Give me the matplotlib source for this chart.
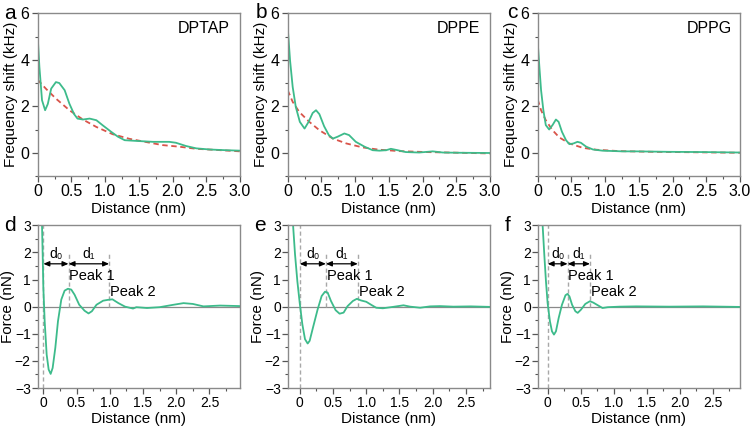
import matplotlib
matplotlib.use("Agg")
import matplotlib.pyplot as plt
from matplotlib.ticker import MultipleLocator

plt.rcParams['font.family'] = ['Liberation Sans', 'DejaVu Sans']

GREEN = '#3dbb8b'
RED = '#d9544a'
GRAY = '#8a8a8a'

# frequency shift curves (top row), x in nm, y in kHz
a_x = [0, 0.025, 0.064, 0.11, 0.15, 0.2, 0.27, 0.32, 0.4, 0.47, 0.54, 0.59, 0.67, 0.77,
       0.87, 0.96, 1.09, 1.19, 1.29, 1.46, 1.71, 1.95, 2.05, 2.2, 2.35, 2.55, 2.79, 3.0]
a_y = [5.0, 3.7, 2.26, 1.83, 2.1, 2.76, 3.04, 3.0, 2.69, 2.11, 1.66, 1.47, 1.43, 1.47,
       1.4, 1.19, 0.9, 0.69, 0.54, 0.51, 0.47, 0.47, 0.43, 0.29, 0.19, 0.14, 0.11, 0.09]
a_fit_x = [0, 0.12, 0.27, 0.47, 0.67, 0.87, 1.11, 1.36, 1.61, 1.85, 2.1, 2.35, 2.6, 3.0]
a_fit_y = [3.14, 2.76, 2.33, 1.83, 1.43, 1.11, 0.8, 0.6, 0.46, 0.33, 0.26, 0.17, 0.13, 0.06]

b_x = [0, 0.035, 0.074, 0.12, 0.18, 0.25, 0.31, 0.37, 0.42, 0.47, 0.54, 0.61, 0.67, 0.74,
       0.84, 0.91, 1.01, 1.14, 1.26, 1.36, 1.46, 1.53, 1.63, 1.75, 1.95, 2.15, 2.3, 2.55, 3.0]
b_y = [5.4, 3.97, 2.83, 1.97, 1.33, 1.04, 1.33, 1.71, 1.83, 1.66, 1.14, 0.76, 0.61, 0.69,
       0.83, 0.76, 0.47, 0.26, 0.11, 0.09, 0.11, 0.17, 0.11, 0.03, 0.01, 0.06, 0.01, 0.0, -0.01]
b_fit_x = [0, 0.074, 0.17, 0.32, 0.47, 0.67, 0.87, 1.11, 1.36, 1.66, 2.05, 2.55, 3.0]
b_fit_y = [2.69, 2.19, 1.76, 1.33, 0.97, 0.61, 0.4, 0.23, 0.13, 0.07, 0.03, 0.0, -0.03]

c_x = [0, 0.025, 0.05, 0.084, 0.12, 0.17, 0.22, 0.27, 0.31, 0.36, 0.42, 0.47, 0.53, 0.59,
       0.64, 0.72, 0.82, 0.96, 1.26, 1.46, 1.95, 2.45, 3.0]
c_y = [4.76, 3.69, 2.69, 1.83, 1.19, 1.0, 1.19, 1.43, 1.33, 0.9, 0.54, 0.37, 0.4, 0.47,
       0.43, 0.26, 0.14, 0.09, 0.06, 0.06, 0.04, 0.03, 0.01]
c_fit_x = [0, 0.05, 0.12, 0.22, 0.32, 0.47, 0.67, 0.87, 1.21, 1.71, 3.0]
c_fit_y = [2.29, 1.83, 1.4, 0.97, 0.66, 0.4, 0.21, 0.13, 0.07, 0.04, 0.0]

# force curves (bottom row), x in nm, y in nN
d_x = [-0.035, -0.02, -0.01, 0.0, 0.02, 0.05, 0.08, 0.11, 0.14, 0.18, 0.22, 0.27, 0.32,
       0.37, 0.42, 0.47, 0.54, 0.62, 0.68, 0.73, 0.8, 0.9, 0.97, 1.04, 1.13, 1.23, 1.35,
       1.4, 1.56, 1.75, 1.96, 2.11, 2.25, 2.41, 2.66, 2.97]
d_y = [3.6, 3.0, 1.9, 0.69, -0.54, -1.77, -2.32, -2.48, -2.26, -1.52, -0.54, 0.26, 0.59,
       0.66, 0.63, 0.44, 0.07, -0.15, -0.25, -0.17, 0.07, 0.22, 0.25, 0.27, 0.13, 0.0, -0.07,
       -0.02, -0.05, -0.02, 0.07, 0.13, 0.1, 0.01, 0.04, 0.02]

e_x = [-0.12, -0.1, -0.07, -0.035, 0, 0.04, 0.08, 0.12, 0.15, 0.2, 0.27, 0.33, 0.38, 0.42,
       0.47, 0.54, 0.6, 0.66, 0.72, 0.8, 0.86, 0.92, 1.0, 1.08, 1.15, 1.25, 1.4, 1.56, 1.66,
       1.81, 1.96, 2.11, 2.31, 2.57, 2.88]
e_y = [3.6, 3.03, 1.93, 0.94, 0.15, -0.65, -1.2, -1.36, -1.26, -0.77, -0.1, 0.39, 0.55, 0.52,
       0.21, -0.13, -0.26, -0.22, 0.02, 0.21, 0.29, 0.23, 0.18, 0.06, -0.04, -0.06, -0.01, 0.05,
       0.0, -0.04, 0.01, 0.02, 0.0, 0.01, -0.01]

f_x = [-0.09, -0.076, -0.05, -0.025, 0, 0.035, 0.066, 0.096, 0.126, 0.167, 0.217, 0.27, 0.3,
       0.33, 0.37, 0.42, 0.455, 0.505, 0.57, 0.64, 0.69, 0.76, 0.83, 0.91, 1.09, 1.34, 1.84,
       2.35, 2.91]
f_y = [3.6, 3.02, 1.91, 0.93, 0.13, -0.54, -0.91, -1.03, -0.91, -0.42, 0.07, 0.42, 0.47,
       0.38, 0.07, -0.17, -0.23, -0.11, 0.1, 0.2, 0.15, 0.05, -0.05, -0.02, 0.0, 0.01, 0.0,
       0.01, -0.01]

top_names = ['DPTAP', 'DPPE', 'DPPG']
top_letters = ['a', 'b', 'c']
bot_letters = ['d', 'e', 'f']
peak1 = [0.379, 0.394, 0.303]
peak2 = [0.99, 0.874, 0.641]
bot_xlim = [(-0.085, 2.96), (-0.18, 2.86), (-0.15, 2.91)]

W, H = 752, 429
fig = plt.figure(figsize=(W / 100, H / 100), dpi=100)
lefts = [37.7, 287.7, 537.7]
aw = 202.3


def style(ax):
    for s in ax.spines.values():
        s.set_color(GRAY)
        s.set_linewidth(1.0)
    ax.tick_params(which='both', direction='out', color='#555555', labelcolor='black',
                   top=False, right=False)
    ax.tick_params(which='major', length=4, width=0.9)
    ax.tick_params(which='minor', length=2.5, width=0.8)


tops = [(a_x, a_y, a_fit_x, a_fit_y), (b_x, b_y, b_fit_x, b_fit_y), (c_x, c_y, c_fit_x, c_fit_y)]
for i, (gx, gy, rx, ry) in enumerate(tops):
    ax = fig.add_axes([lefts[i] / W, 1 - 176 / H, aw / W, (176 - 13.3) / H])
    ax.plot(rx, ry, color=RED, lw=1.3, ls=(0, (3, 2)))
    ax.plot(gx, gy, color=GREEN, lw=1.3)
    ax.set_xlim(0, 3.0)
    ax.set_ylim(-1, 6)
    ax.xaxis.set_major_locator(MultipleLocator(0.5))
    ax.xaxis.set_minor_locator(MultipleLocator(0.25))
    ax.yaxis.set_major_locator(MultipleLocator(2))
    ax.yaxis.set_minor_locator(MultipleLocator(1))
    ax.set_xticks([0, 0.5, 1.0, 1.5, 2.0, 2.5, 3.0])
    ax.set_xticklabels(['0', '0.5', '1.0', '1.5', '2.0', '2.5', '3.0'])
    style(ax)
    ax.tick_params(labelsize=11.5, pad=2)
    ax.set_xlabel('Distance (nm)', fontsize=11, labelpad=2)
    ax.set_ylabel('Frequency shift (kHz)', fontsize=11)
    ax.yaxis.set_label_coords(-0.098, 0.5)
    ax.text(0.95 if i < 2 else 0.96, 0.905, top_names[i], transform=ax.transAxes,
            ha='right', va='center', fontsize=11.5)

letter_pos = [(4, 19), (256, 18), (507, 18)]
for (px, py), t in zip(letter_pos, top_letters):
    fig.text(px / W, 1 - py / H, t, fontsize=15, va='baseline')

bots = [(d_x, d_y), (e_x, e_y), (f_x, f_y)]
for i, (gx, gy) in enumerate(bots):
    ax = fig.add_axes([lefts[i] / W, 1 - 388 / H, aw / W, (388 - 225.3) / H])
    ax.axhline(0, color=GRAY, lw=0.9)
    ax.axvline(0, color='#a8a8a8', lw=1.0, ls=(0, (3, 2)))
    p1, p2 = peak1[i], peak2[i]
    ax.plot([p1, p1], [0, 1.95], color='#a8a8a8', lw=1.0, ls=(0, (3, 2)))
    ax.plot([p2, p2], [0, 1.95], color='#a8a8a8', lw=1.0, ls=(0, (3, 2)))
    ax.plot(gx, gy, color=GREEN, lw=1.3)
    arrow = dict(arrowstyle='<|-|>,head_length=0.35,head_width=0.15', color='black',
                 lw=0.9, shrinkA=0, shrinkB=0)
    ax.annotate('', xy=(0, 1.58), xytext=(p1, 1.58), arrowprops=arrow)
    ax.annotate('', xy=(p1, 1.58), xytext=(p2, 1.58), arrowprops=arrow)
    ax.text(p1 / 2, 1.93, 'd₀', ha='center', va='center', fontsize=10)
    ax.text((p1 + p2) / 2, 1.93, 'd₁', ha='center', va='center', fontsize=10)
    ax.text(p1 + 0.01, 1.12, 'Peak 1', ha='left', va='center', fontsize=10.5)
    ax.text(p2 + 0.01, 0.53, 'Peak 2', ha='left', va='center', fontsize=10.5)
    ax.set_xlim(*bot_xlim[i])
    ax.set_ylim(-3, 3)
    ax.xaxis.set_major_locator(MultipleLocator(0.5))
    ax.xaxis.set_minor_locator(MultipleLocator(0.25))
    ax.yaxis.set_major_locator(MultipleLocator(1))
    ax.yaxis.set_minor_locator(MultipleLocator(0.5))
    ax.set_xticks([0, 0.5, 1.0, 1.5, 2.0, 2.5])
    ax.set_xticklabels(['0', '0.5', '1.0', '1.5', '2.0', '2.5'])
    ax.set_yticks([-3, -2, -1, 0, 1, 2, 3])
    ax.set_yticklabels(['\u22123', '\u22122', '\u22121', '0', '1', '2', '3'])
    style(ax)
    ax.tick_params(labelsize=10, pad=1.5)
    ax.tick_params(axis='y', pad=1)
    ax.set_xlabel('Distance (nm)', fontsize=11, labelpad=2)
    ax.set_ylabel('Force (nN)', fontsize=11)
    ax.yaxis.set_label_coords(-0.11, 0.5)

letter_pos = [(4, 231), (254, 231), (505, 231)]
for (px, py), t in zip(letter_pos, bot_letters):
    fig.text(px / W, 1 - py / H, t, fontsize=15, va='baseline')

fig.savefig('out.png', dpi=100)
